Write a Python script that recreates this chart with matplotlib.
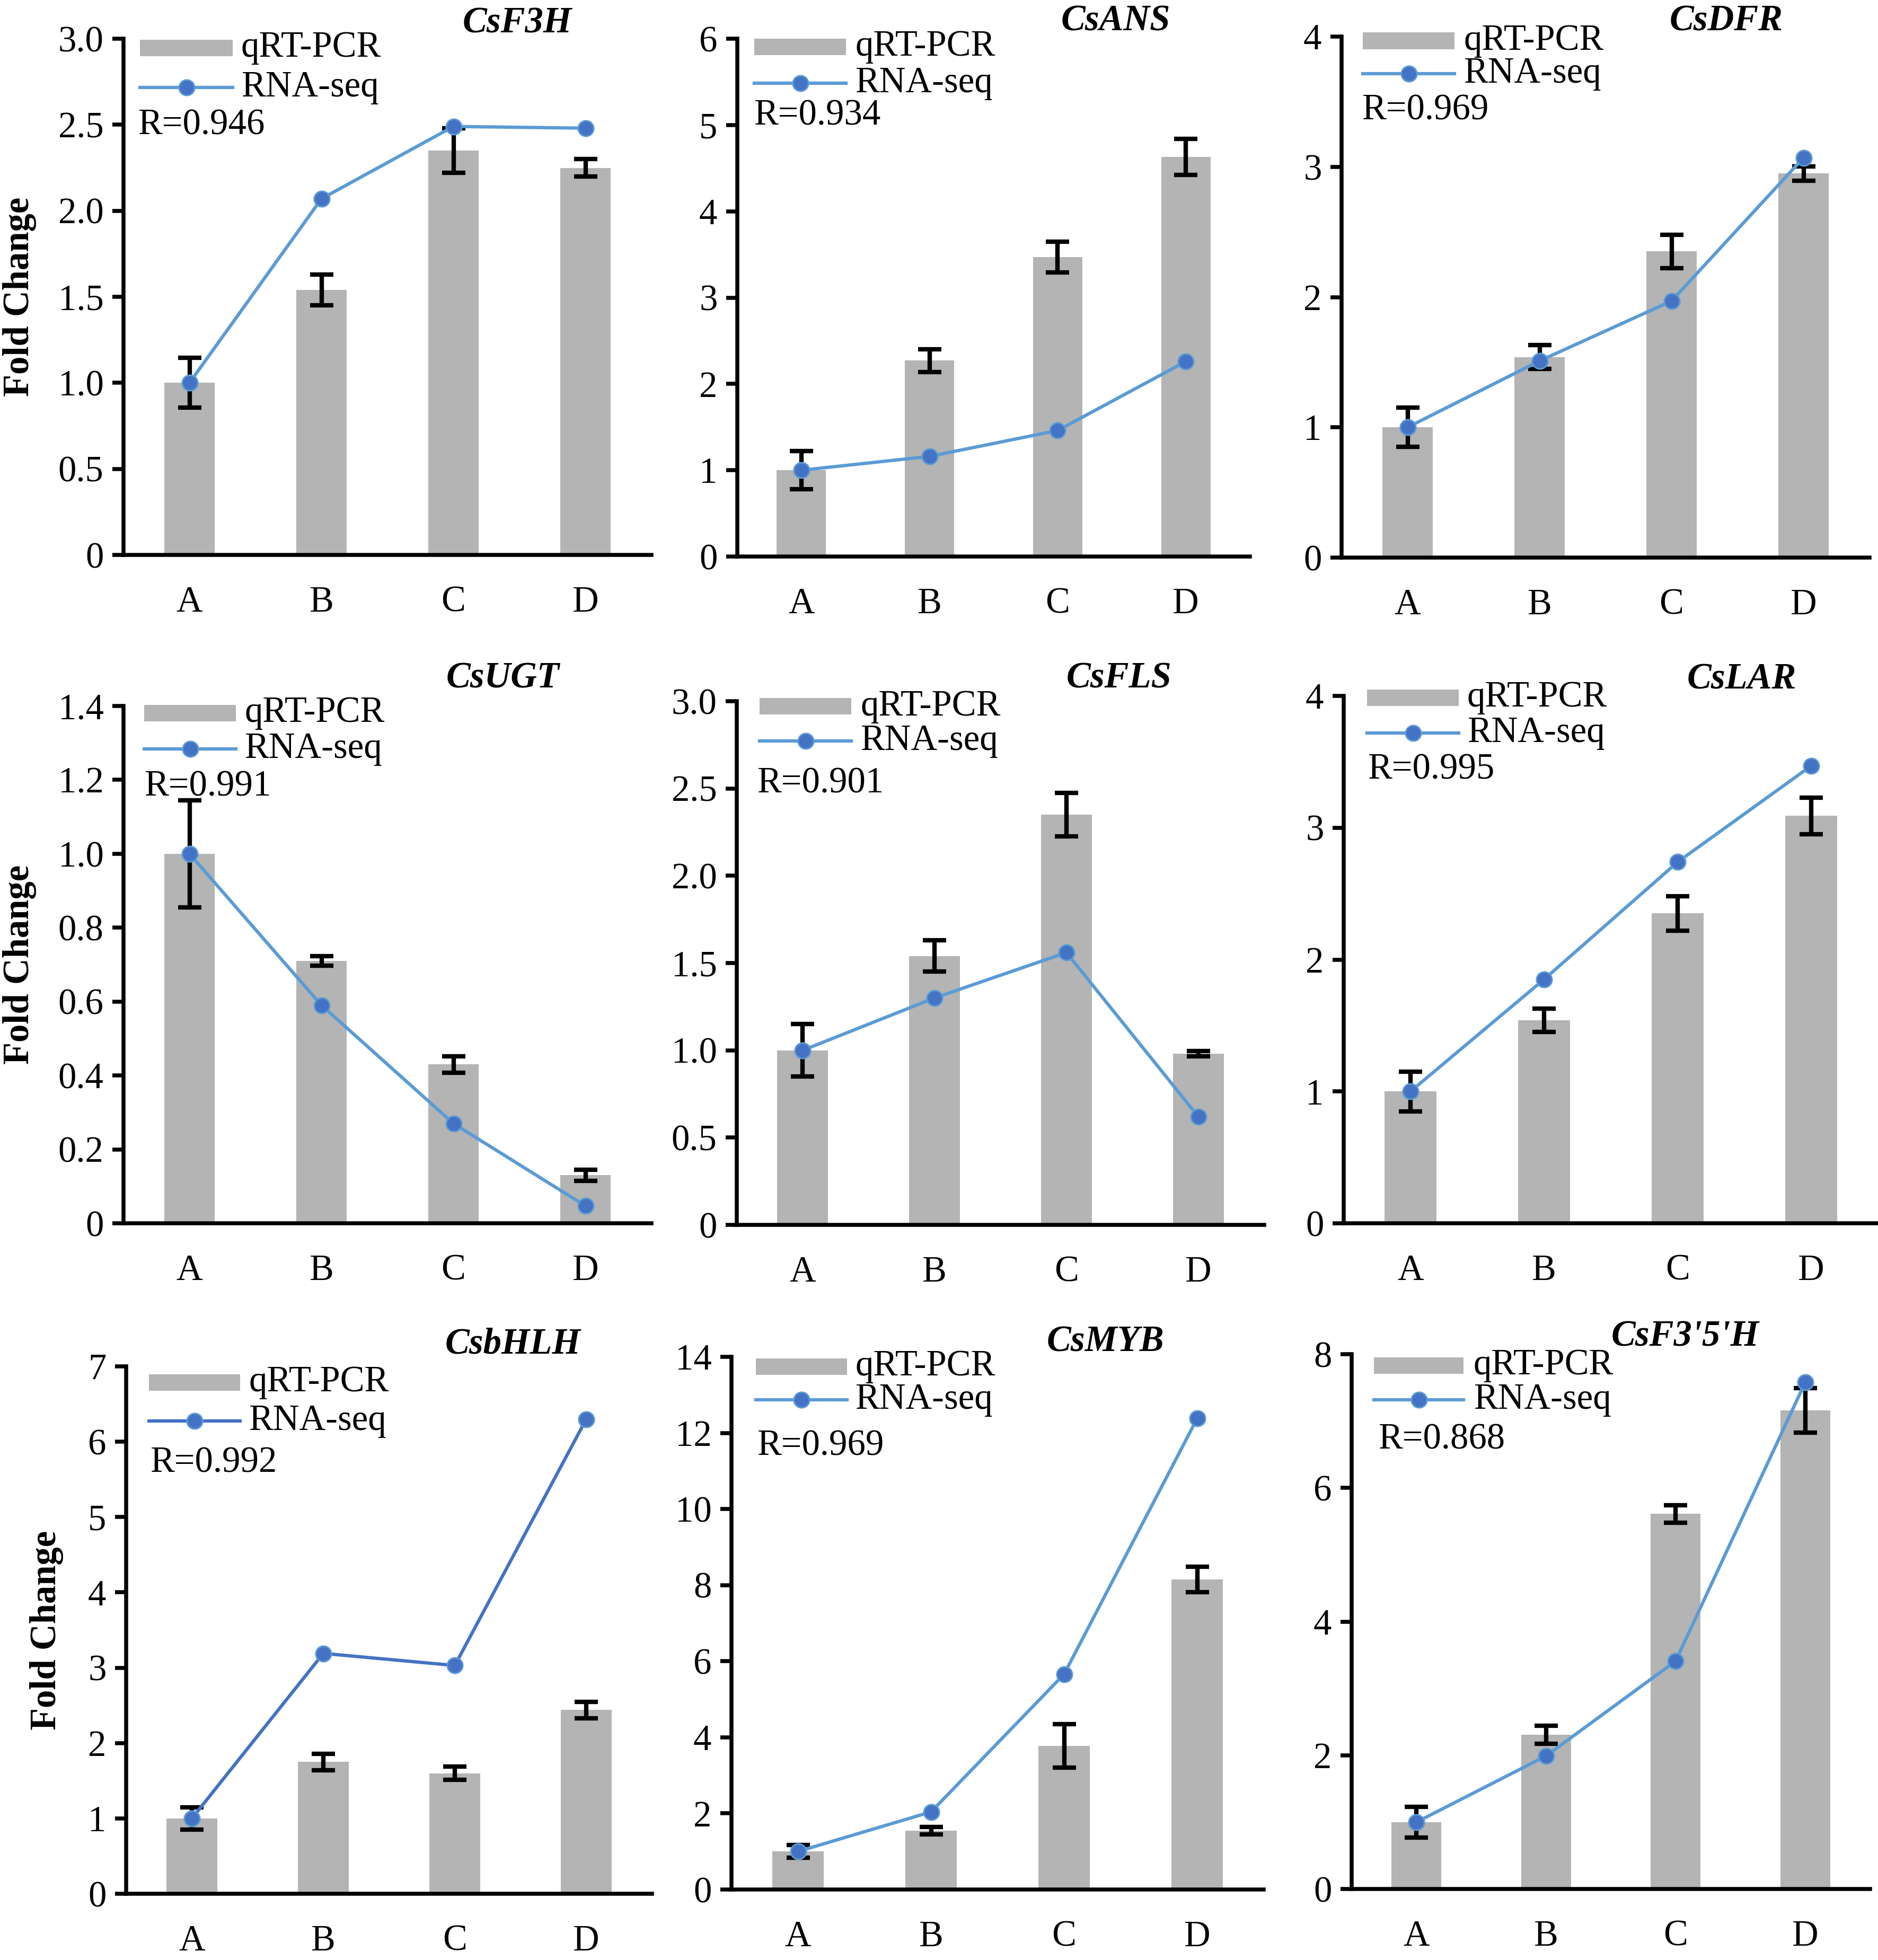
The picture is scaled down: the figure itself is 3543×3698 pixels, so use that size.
import matplotlib.pyplot as plt
from matplotlib.patches import Rectangle
from matplotlib.lines import Line2D

plt.rcParams['font.family'] = ['Liberation Serif', 'DejaVu Serif']

W, H = 3543, 3698   # output size in pixels
DPI = 300

categories = ['A', 'B', 'C', 'D']

# qRT-PCR mean, error and RNA-seq values
f3h_qpcr = [1.0, 1.54, 2.35, 2.25]
f3h_err = [0.145, 0.09, 0.13, 0.05]
f3h_rna = [1.0, 2.07, 2.49, 2.48]
f3h_ticks = ['0', '0.5', '1.0', '1.5', '2.0', '2.5', '3.0']

ans_qpcr = [1.0, 2.27, 3.47, 4.63]
ans_err = [0.22, 0.13, 0.18, 0.21]
ans_rna = [1.0, 1.16, 1.46, 2.26]
ans_ticks = ['0', '1', '2', '3', '4', '5', '6']

dfr_qpcr = [1.0, 1.54, 2.35, 2.95]
dfr_err = [0.15, 0.09, 0.13, 0.055]
dfr_rna = [1.0, 1.51, 1.97, 3.07]
dfr_ticks = ['0', '1', '2', '3', '4']

ugt_qpcr = [1.0, 0.71, 0.43, 0.13]
ugt_err = [0.145, 0.013, 0.022, 0.015]
ugt_rna = [1.0, 0.59, 0.27, 0.047]
ugt_ticks = ['0', '0.2', '0.4', '0.6', '0.8', '1.0', '1.2', '1.4']

fls_qpcr = [1.0, 1.54, 2.35, 0.98]
fls_err = [0.15, 0.09, 0.125, 0.015]
fls_rna = [1.0, 1.30, 1.56, 0.62]
fls_ticks = ['0', '0.5', '1.0', '1.5', '2.0', '2.5', '3.0']

lar_qpcr = [1.0, 1.54, 2.35, 3.09]
lar_err = [0.15, 0.09, 0.13, 0.14]
lar_rna = [1.0, 1.85, 2.74, 3.47]
lar_ticks = ['0', '1', '2', '3', '4']

bhlh_qpcr = [1.0, 1.75, 1.6, 2.44]
bhlh_err = [0.15, 0.11, 0.09, 0.11]
bhlh_rna = [1.0, 3.19, 3.03, 6.30]
bhlh_ticks = ['0', '1', '2', '3', '4', '5', '6', '7']

myb_qpcr = [1.0, 1.55, 3.78, 8.15]
myb_err = [0.17, 0.1, 0.57, 0.34]
myb_rna = [1.0, 2.04, 5.66, 12.38]
myb_ticks = ['0', '2', '4', '6', '8', '10', '12', '14']

f35h_qpcr = [1.0, 2.31, 5.61, 7.16]
f35h_err = [0.23, 0.135, 0.13, 0.33]
f35h_rna = [1.0, 1.99, 3.41, 7.58]
f35h_ticks = ['0', '2', '4', '6', '8']

genes = ['CsF3H', 'CsANS', 'CsDFR', 'CsUGT', 'CsFLS', 'CsLAR', 'CsbHLH', 'CsMYB', "CsF3'5'H"]
r_values = ['0.946', '0.934', '0.969', '0.991', '0.901', '0.995', '0.992', '0.969', '0.868']

panels = [
    (f3h_qpcr, f3h_err, f3h_rna, f3h_ticks),
    (ans_qpcr, ans_err, ans_rna, ans_ticks),
    (dfr_qpcr, dfr_err, dfr_rna, dfr_ticks),
    (ugt_qpcr, ugt_err, ugt_rna, ugt_ticks),
    (fls_qpcr, fls_err, fls_rna, fls_ticks),
    (lar_qpcr, lar_err, lar_rna, lar_ticks),
    (bhlh_qpcr, bhlh_err, bhlh_rna, bhlh_ticks),
    (myb_qpcr, myb_err, myb_rna, myb_ticks),
    (f35h_qpcr, f35h_err, f35h_rna, f35h_ticks),
]

# layout in pixels: axes box (left, right, top, zero line)
boxes = [
    (233, 1229, 73, 1047), (1391, 2358, 73, 1050), (2531, 3527, 69, 1052),
    (233, 1229, 1332, 2308), (1390, 2385, 1323, 2311), (2535, 3543, 1313, 2308),
    (238, 1230, 2578, 3573), (1380, 2384, 2560, 3565), (2550, 3528, 2555, 3564),
]
# title centre x, title baseline y
titles_xy = [(976, 61), (2105, 57), (3257, 57), (949, 1297), (2111, 1297), (3286, 1299),
             (968, 2554), (2085, 2549), (3179, 2539)]
# legend: patch x0, patch x1, patch y, line y, text x, R x, R baseline
legends = [
    (264, 439, 90, 165, 455, 260, 253),
    (1423, 1596, 88, 157, 1613, 1422, 236),
    (2571, 2744, 77, 139, 2761, 2569, 226),
    (272, 445, 1345, 1413, 461, 272, 1501),
    (1433, 1606, 1333, 1398, 1623, 1428, 1496),
    (2579, 2752, 1316, 1383, 2768, 2580, 1470),
    (281, 453, 2608, 2681, 469, 283, 2778),
    (1426, 1598, 2578, 2641, 1613, 1428, 2746),
    (2592, 2761, 2576, 2641, 2780, 2600, 2733),
]
ylabel_x = [37, 37, 88]

bar_color = '#B4B4B4'
line_color = '#5B9BD5'
dot_color = '#4472C4'
fs = 16.5


def fx(x):
    return x / W


def fy(y):
    return 1 - y / H


fig = plt.figure(figsize=(W / DPI, H / DPI), dpi=DPI)

for i, (qpcr, err, rna, ticks) in enumerate(panels):
    left, right, top, zero = boxes[i]
    ax = fig.add_axes([fx(left), fy(zero), (right - left) / W, (zero - top) / H])
    lc = dot_color if genes[i] == 'CsbHLH' else line_color

    ax.bar(categories, qpcr, width=0.385, color=bar_color, zorder=1)
    ax.errorbar(categories, qpcr, yerr=err, fmt='none', ecolor='black',
                elinewidth=2.0, capsize=5.2, capthick=2.0, zorder=2)
    ax.plot(categories, rna, color=lc, lw=1.5, marker='o', ms=7,
            mfc=dot_color, mec=line_color, mew=0.7, zorder=3)

    tick_vals = [float(t) for t in ticks]
    ax.set_xlim(-0.5, 3.5)
    ax.set_ylim(0, tick_vals[-1])
    ax.set_yticks(tick_vals)
    ax.set_yticklabels(ticks)
    for s in ['top', 'right']:
        ax.spines[s].set_visible(False)
    for s in ['left', 'bottom']:
        ax.spines[s].set_linewidth(1.8)
    ax.tick_params(axis='y', direction='out', length=5, width=1.8, pad=4, labelsize=fs)
    ax.tick_params(axis='x', length=0, pad=14, labelsize=fs)

    # hand-made legend and correlation text
    px0, px1, py, ly, tx, rx, ry = legends[i]
    fig.add_artist(Rectangle((fx(px0), fy(py + 15.5)), (px1 - px0) / W, 31 / H,
                             transform=fig.transFigure, color=bar_color, lw=0))
    fig.add_artist(Line2D([fx(px0), fx(px1)], [fy(ly), fy(ly)], transform=fig.transFigure,
                          color=lc, lw=1.5))
    fig.add_artist(Line2D([fx((px0 + px1) / 2)], [fy(ly)], transform=fig.transFigure,
                          marker='o', ms=7, mfc=dot_color, mec=line_color, mew=0.7))
    fig.text(fx(tx), fy(py + 17), 'qRT-PCR', fontsize=fs, va='baseline')
    fig.text(fx(tx), fy(ly + 17), 'RNA-seq', fontsize=fs, va='baseline')
    fig.text(fx(rx), fy(ry), 'R=' + r_values[i], fontsize=fs, va='baseline')

    tx_, ty_ = titles_xy[i]
    fig.text(fx(tx_), fy(ty_), genes[i], fontsize=fs, fontweight='bold', fontstyle='italic',
             ha='center', va='baseline')

    if i % 3 == 0:
        fig.text(fx(ylabel_x[i // 3]), fy((top + zero) / 2), 'Fold Change', fontsize=fs,
                 fontweight='bold', rotation=90, ha='center', va='center')

fig.savefig('out.png', dpi=DPI)
